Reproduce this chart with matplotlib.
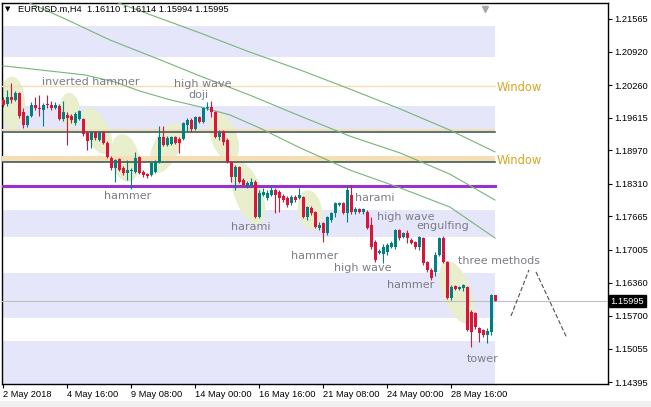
import numpy as np
import matplotlib
matplotlib.use("Agg")
import matplotlib.pyplot as plt
from matplotlib.patches import Polygon, Rectangle
from matplotlib.transforms import blended_transform_factory

plt.rcParams['font.family'] = ['Liberation Sans', 'DejaVu Sans']

# --- dati: EURUSD.m H4, 2-30 May 2018
opens = [1.1997, 1.1989, 1.2002, 1.1997, 1.2010, 1.1973, 1.1947, 1.1965, 1.1987, 1.1981,
         1.1977, 1.1989, 1.1987, 1.1981, 1.1985, 1.1959, 1.1967, 1.1965, 1.1951, 1.1959,
         1.1959, 1.1931, 1.1918, 1.1933, 1.1918, 1.1933, 1.1912, 1.1882, 1.1862, 1.1880,
         1.1862, 1.1852, 1.1856, 1.1854, 1.1884, 1.1854, 1.1850, 1.1848, 1.1854, 1.1874,
         1.1923, 1.1908, 1.1910, 1.1923, 1.1919, 1.1919, 1.1947, 1.1957, 1.1939, 1.1963,
         1.1953, 1.1981, 1.1983, 1.1973, 1.1923, 1.1935, 1.1918, 1.1874, 1.1844, 1.1864,
         1.1839, 1.1827, 1.1829, 1.1835, 1.1765, 1.1809, 1.1803, 1.1809, 1.1819, 1.1815,
         1.1807, 1.1803, 1.1793, 1.1805, 1.1803, 1.1805, 1.1765, 1.1783, 1.1775, 1.1744,
         1.1754, 1.1734, 1.1760, 1.1773, 1.1789, 1.1793, 1.1773, 1.1809, 1.1775, 1.1781,
         1.1775, 1.1775, 1.1750, 1.1716, 1.1694, 1.1692, 1.1696, 1.1706, 1.1706, 1.1740,
         1.1726, 1.1734, 1.1720, 1.1716, 1.1706, 1.1724, 1.1677, 1.1661, 1.1657, 1.1690,
         1.1724, 1.1677, 1.1605, 1.1629, 1.1623, 1.1625, 1.1627, 1.1578, 1.1576, 1.1546,
         1.1542, 1.1532, 1.1538, 1.16110]
highs = [1.2002, 1.2016, 1.2030, 1.2014, 1.2012, 1.1981, 1.1967, 1.1993, 1.2002, 1.2006,
         1.1991, 1.2006, 1.1995, 1.1993, 1.1989, 1.1995, 1.1973, 1.1969, 1.1973, 1.1977,
         1.1961, 1.1935, 1.1935, 1.1935, 1.1935, 1.1935, 1.1916, 1.1886, 1.1880, 1.1882,
         1.1866, 1.1878, 1.1862, 1.1894, 1.1886, 1.1858, 1.1852, 1.1874, 1.1878, 1.1945,
         1.1945, 1.1925, 1.1925, 1.1925, 1.1923, 1.1953, 1.1961, 1.1961, 1.1965, 1.1965,
         1.1983, 1.1993, 1.1995, 1.1975, 1.1937, 1.1937, 1.1921, 1.1876, 1.1868, 1.1866,
         1.1842, 1.1837, 1.1842, 1.1839, 1.1819, 1.1823, 1.1819, 1.1829, 1.1823, 1.1819,
         1.1811, 1.1807, 1.1809, 1.1809, 1.1823, 1.1807, 1.1787, 1.1787, 1.1777, 1.1756,
         1.1756, 1.1767, 1.1775, 1.1795, 1.1795, 1.1795, 1.1829, 1.1829, 1.1785, 1.1783,
         1.1783, 1.1779, 1.1765, 1.1720, 1.1702, 1.1712, 1.1714, 1.1718, 1.1742, 1.1742,
         1.1736, 1.1740, 1.1724, 1.1718, 1.1728, 1.1726, 1.1679, 1.1665, 1.1696, 1.1726,
         1.1728, 1.1679, 1.1631, 1.1631, 1.1629, 1.1633, 1.1629, 1.1582, 1.1578, 1.1548,
         1.1544, 1.1546, 1.1613, 1.16114]
lows = [1.1983, 1.1985, 1.1991, 1.1995, 1.1961, 1.1941, 1.1943, 1.1963, 1.1977, 1.1965,
        1.1945, 1.1981, 1.1977, 1.1979, 1.1957, 1.1955, 1.1908, 1.1951, 1.1947, 1.1957,
        1.1925, 1.1898, 1.1902, 1.1918, 1.1916, 1.1910, 1.1882, 1.1858, 1.1835, 1.1856,
        1.1848, 1.1839, 1.1821, 1.1852, 1.1850, 1.1844, 1.1842, 1.1846, 1.1852, 1.1872,
        1.1906, 1.1906, 1.1908, 1.1910, 1.1892, 1.1918, 1.1933, 1.1933, 1.1937, 1.1951,
        1.1951, 1.1977, 1.1963, 1.1921, 1.1918, 1.1908, 1.1872, 1.1835, 1.1819, 1.1833,
        1.1827, 1.1823, 1.1825, 1.1763, 1.1763, 1.1807, 1.1799, 1.1807, 1.1773, 1.1775,
        1.1795, 1.1785, 1.1789, 1.1795, 1.1801, 1.1763, 1.1760, 1.1769, 1.1744, 1.1740,
        1.1716, 1.1730, 1.1756, 1.1765, 1.1787, 1.1771, 1.1756, 1.1771, 1.1771, 1.1773,
        1.1771, 1.1742, 1.1702, 1.1677, 1.1692, 1.1675, 1.1690, 1.1704, 1.1702, 1.1720,
        1.1724, 1.1714, 1.1712, 1.1702, 1.1700, 1.1671, 1.1657, 1.1641, 1.1649, 1.1688,
        1.1675, 1.1603, 1.1602, 1.1621, 1.1621, 1.1619, 1.1540, 1.1509, 1.1544, 1.1519,
        1.1528, 1.1517, 1.1532, 1.15994]
closes = [1.1987, 1.2002, 1.1997, 1.2010, 1.1965, 1.1947, 1.1965, 1.1987, 1.1981, 1.1979,
          1.1987, 1.1987, 1.1981, 1.1987, 1.1959, 1.1973, 1.1961, 1.1957, 1.1969, 1.1975,
          1.1929, 1.1916, 1.1933, 1.1921, 1.1933, 1.1912, 1.1884, 1.1862, 1.1878, 1.1858,
          1.1852, 1.1858, 1.1858, 1.1882, 1.1852, 1.1848, 1.1846, 1.1872, 1.1874, 1.1923,
          1.1908, 1.1921, 1.1923, 1.1912, 1.1912, 1.1951, 1.1957, 1.1939, 1.1963, 1.1953,
          1.1981, 1.1983, 1.1973, 1.1923, 1.1933, 1.1914, 1.1874, 1.1844, 1.1864, 1.1835,
          1.1829, 1.1833, 1.1835, 1.1765, 1.1813, 1.1815, 1.1813, 1.1819, 1.1809, 1.1803,
          1.1799, 1.1789, 1.1805, 1.1799, 1.1809, 1.1765, 1.1785, 1.1773, 1.1746, 1.1750,
          1.1734, 1.1765, 1.1773, 1.1793, 1.1793, 1.1773, 1.1819, 1.1775, 1.1781, 1.1775,
          1.1781, 1.1744, 1.1706, 1.1681, 1.1698, 1.1706, 1.1710, 1.1714, 1.1740, 1.1724,
          1.1734, 1.1724, 1.1714, 1.1706, 1.1726, 1.1675, 1.1661, 1.1645, 1.1690, 1.1724,
          1.1677, 1.1605, 1.1627, 1.1623, 1.1627, 1.1631, 1.1542, 1.1538, 1.1548, 1.1536,
          1.1532, 1.1540, 1.1611, 1.15995]

# medie mobili (tre curve verdi)
ma_a_x = [25.5, 39.25, 49.25, 61.75, 74.25, 86.75, 99.25, 111.75, 123]
ma_a_y = [1.2198, 1.2158, 1.2129, 1.2091, 1.2056, 1.2018, 1.1979, 1.1937, 1.1894]
ma_b_x = [0, 5, 16, 26.75, 39.25, 49.25, 61.75, 74.25, 86.75, 99.25, 111.75, 123]
ma_b_y = [1.2212, 1.2194, 1.2155, 1.2115, 1.2076, 1.2044, 1.2006, 1.1965, 1.1925, 1.1892,
          1.1850, 1.1799]
ma_c_x = [0, 9.25, 20.5, 28, 34.25, 41.75, 49.25, 56.75, 64.25, 74.25, 86.75, 99.25, 111.75, 123]
ma_c_y = [1.2064, 1.2056, 1.2046, 1.2032, 1.2014, 1.1997, 1.1983, 1.1967, 1.1941, 1.1902,
          1.1858, 1.1823, 1.1785, 1.1724]

# zone orizzontali (lavanda)
bands = [(1.2081, 1.2143), (1.1935, 1.1985), (1.1726, 1.1779), (1.1566, 1.1655), (1.1400, 1.1521)]
# finestre (gap)
window_line = 1.2024
window_bands = [(1.1935, 1.1940), (1.1875, 1.1886)]
dark_lines = [1.1933, 1.1874]
purple_level = 1.1826

# pattern evidenziati: centro (barra, prezzo), semiassi in px, angolo
ellipses = [(2.25, 1.1991, 26, 13, 90), (16.75, 1.1977, 17, 10, 95), (23.5, 1.1935, 25, 12, 115),
            (30.5, 1.1882, 24, 14, 100), (40.75, 1.1902, 27, 13, 65), (55.25, 1.1923, 25, 13, 110),
            (61.25, 1.1813, 33, 14, 110), (76.75, 1.1779, 20, 12, 100), (113.5, 1.1617, 33, 14, 110)]

patterns = [("inverted hammer", 22, 1.2032), ("high wave", 50, 1.2028), ("doji", 48.75, 1.2006),
            ("hammer", 31.25, 1.1807), ("harami", 62, 1.1746), ("harami", 93, 1.1803),
            ("hammer", 78, 1.1688), ("high wave", 90, 1.1665), ("high wave", 100.75, 1.1765),
            ("engulfing", 110, 1.1748), ("hammer", 102, 1.1631), ("three methods", 124, 1.1679),
            ("tower", 120, 1.1485)]
window_labels = [(123.5, 1.2022), (123.5, 1.1878)]

# proiezione tratteggiata
proj1_x, proj1_y = [127, 131.5], [1.1570, 1.1661]
proj2_x, proj2_y = [133.25, 141], [1.1657, 1.1526]

yticks = [1.21565, 1.20920, 1.20260, 1.19615, 1.18970, 1.18310, 1.17665, 1.17005,
          1.16360, 1.15700, 1.15055, 1.14395]
xtick_pos = [0, 16, 32, 48, 64, 80, 96, 112]
xtick_lab = ['2 May 2018', '4 May 16:00', '9 May 08:00', '14 May 00:00', '16 May 16:00',
             '21 May 08:00', '24 May 00:00', '28 May 16:00']

PX_BAR = 4.0          # pixel per barra
PX_PRICE = 0.0001975  # prezzo per pixel
last_bar = len(opens) - 1

fig = plt.figure(figsize=(6.51, 4.07), dpi=100)
fig.patches.append(Rectangle((0, 0), 1, 6 / 407, transform=fig.transFigure,
                             color='#F0F0F0', zorder=0))
ax = fig.add_axes([2 / 651, 23 / 407, 606 / 651, 381 / 407])
ax.set_xlim(-0.25, 151.25)
ax.set_ylim(1.14356, 1.21881)

for lo, hi in bands:
    ax.fill_between([-0.25, last_bar], lo, hi, color='#E6E6FA', lw=0, zorder=1)

for cx, cy, a, b, ang in ellipses:
    t = np.linspace(0, 2 * np.pi, 90)
    th = np.radians(ang)
    dx = a * np.cos(t) * np.cos(th) - b * np.sin(t) * np.sin(th)
    dy = a * np.cos(t) * np.sin(th) + b * np.sin(t) * np.cos(th)
    pts = np.column_stack([cx + dx / PX_BAR, cy + dy * PX_PRICE])
    ax.add_patch(Polygon(pts, closed=True, facecolor='#E9EECD', edgecolor='none', zorder=2))

ax.plot([-0.25, last_bar], [window_line] * 2, color='#F5DEB3', lw=1, zorder=3)
for lo, hi in window_bands:
    ax.fill_between([-0.25, last_bar], lo, hi, color='#F5DEB3', lw=0, zorder=3)
for lv in dark_lines:
    ax.plot([-0.25, last_bar], [lv, lv], color='#2F4F4F', lw=1.1, zorder=3)
ax.plot([-0.25, last_bar], [purple_level] * 2, color='#9932CC', lw=2.2, zorder=3)

for mx, my in [(ma_a_x, ma_a_y), (ma_b_x, ma_b_y), (ma_c_x, ma_c_y)]:
    ax.plot(mx, my, color='#78B478', lw=0.8, zorder=4)

ax.axhline(closes[-1], color='#C0C0C0', lw=0.8, zorder=3)

# candele
x = np.arange(len(opens))
o, h, l, c = (np.array(v) for v in (opens, highs, lows, closes))
col = np.where(c >= o, '#008080', '#DC143C')
ax.vlines(x, l, h, colors=col, lw=0.8, zorder=5)
body = np.maximum(np.abs(c - o), 0.0002)
ax.bar(x, body, bottom=np.minimum(o, c), width=0.75, color=col, lw=0, zorder=6)

for txt, px, py in patterns:
    ax.text(px, py, txt, color='#7C7C86', fontsize=8, family='DejaVu Sans',
            ha='center', va='center', zorder=7)
for px, py in window_labels:
    ax.text(px, py, 'Window', color='#DAA520', fontsize=8.3, family='DejaVu Sans',
            ha='left', va='center', zorder=7)

ax.plot(proj1_x, proj1_y, color='#505050', lw=0.8, ls=(0, (4, 2)), zorder=7)
ax.plot(proj2_x, proj2_y, color='#505050', lw=0.8, ls=(0, (4, 2)), zorder=7)

trans = blended_transform_factory(ax.transData, ax.transAxes)
ax.plot([120.5], [0.985], marker='v', ms=5, color='#A8A8A8', transform=trans,
        clip_on=False, zorder=8)

# assi stile MT4
for s in ax.spines.values():
    s.set_color('black')
    s.set_linewidth(1)
ax.yaxis.tick_right()
ax.set_yticks(yticks)
ax.set_yticklabels([f'{v:.5f}' for v in yticks])
ax.set_xticks(xtick_pos)
ax.set_xticklabels(xtick_lab)
for lab in ax.get_xticklabels():
    lab.set_ha('left')
ax.tick_params(axis='y', direction='out', length=3, width=0.8, pad=1.5, labelsize=6.7)
ax.tick_params(axis='x', direction='out', length=3, width=0.8, pad=1.5, labelsize=6.7)

tr_price = blended_transform_factory(ax.transAxes, ax.transData)
ax.text(1.004, closes[-1], f'{closes[-1]:.5f}', transform=tr_price, color='white',
        fontsize=6.7, ha='left', va='center', clip_on=False,
        bbox=dict(facecolor='black', edgecolor='black', boxstyle='square,pad=0.2'))

fig.text(5 / 651, 1 - 9 / 407, '\u25bc', fontsize=5, family='DejaVu Sans', va='center')
fig.text(18 / 651, 1 - 9 / 407, 'EURUSD.m,H4  1.16110 1.16114 1.15994 1.15995',
         fontsize=6.7, va='center', ha='left')

plt.savefig('out.png', dpi=100)
